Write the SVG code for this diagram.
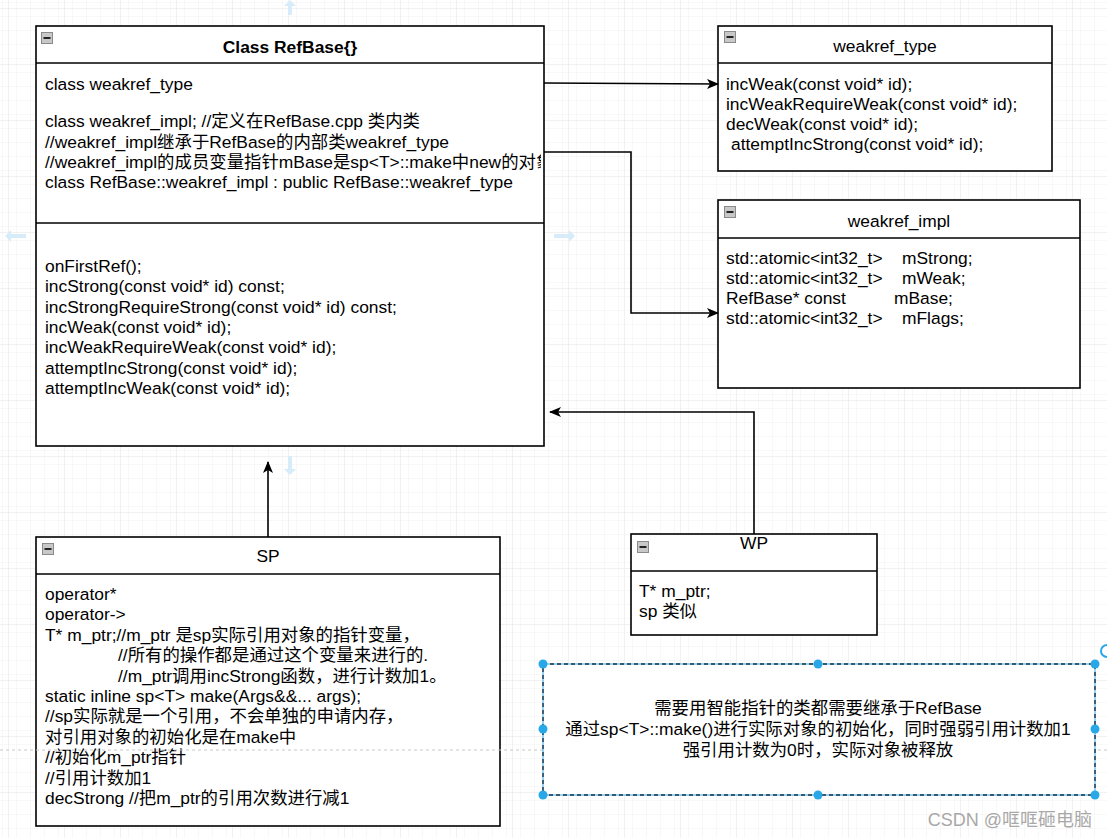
<svg xmlns="http://www.w3.org/2000/svg" width="1107" height="838" viewBox="0 0 1107 838">
<defs>
<pattern id="gridMinor" x="8" y="8" width="14" height="14" patternUnits="userSpaceOnUse">
<path d="M14 0H0V14" fill="none" stroke="#f1f1f1" stroke-width="1"/>
</pattern>
<pattern id="gridMajor" x="8" y="8" width="56" height="56" patternUnits="userSpaceOnUse">
<rect width="56" height="56" fill="url(#gridMinor)"/>
<path d="M56 0H0V56" fill="none" stroke="#e4e4e4" stroke-width="1"/>
</pattern>
<marker id="arr" viewBox="0 0 12 10" refX="11" refY="5" markerWidth="12" markerHeight="10" markerUnits="userSpaceOnUse" orient="auto">
<path d="M0,0 L12,5 L0,10 L3,5 Z" fill="#000"/>
</marker>
<clipPath id="clipRef"><rect x="36" y="26" width="505" height="420"/></clipPath>
<symbol id="collapse" viewBox="0 0 12 12">
<rect x="0.5" y="0.5" width="11" height="11" fill="#c8c8c8" stroke="#8a8a8a"/>
<rect x="2.5" y="5" width="7" height="2" fill="#222"/>
</symbol>
</defs>
<style>
text{font-family:"Liberation Sans",Arial,"Noto Sans CJK SC",sans-serif;font-size:17.4px;fill:#000;}
.t{text-anchor:middle;}
.b{font-weight:bold;}
.box{fill:#fff;stroke:#000;stroke-width:1.6;}
.div{stroke:#000;stroke-width:1.6;}
.conn{fill:none;stroke:#000;stroke-width:1.6;}
.hint{fill:#d6ecf8;}
.handle{fill:#29a8e8;}
</style>
<rect width="1107" height="838" fill="#fff"/>
<rect width="1107" height="838" fill="url(#gridMajor)"/>

<g id="hints">
<path class="hint" d="M290,0 L296,6 L292,6 L292,15 L288,15 L288,6 L284,6 Z"/>
<path class="hint" d="M5,236 L11,230 L11,234 L26,234 L26,238 L11,238 L11,242 Z"/>
<path class="hint" d="M575,236 L569,230 L569,234 L554,234 L554,238 L569,238 L569,242 Z"/>
<path class="hint" d="M290,475 L296,469 L292,469 L292,456 L288,456 L288,469 L284,469 Z"/>
</g>

<g id="refbase">
<rect class="box" x="36" y="26" width="508" height="420"/>
<line class="div" x1="36" y1="63" x2="544" y2="63"/>
<line class="div" x1="36" y1="223" x2="544" y2="223"/>
<use href="#collapse" x="41" y="32" width="12" height="12"/>
<text class="t b" x="290" y="53">Class RefBase{}</text>
<g clip-path="url(#clipRef)">
<text x="45" y="90">class weakref_type</text>
<text x="45" y="127">class weakref_impl; //定义在RefBase.cpp 类内类</text>
<text x="45" y="148">//weakref_impl继承于RefBase的内部类weakref_type</text>
<text x="45" y="168">//weakref_impl的成员变量指针mBase是sp&lt;T&gt;::make中new的对象</text>
<text x="45" y="188">class RefBase::weakref_impl : public RefBase::weakref_type</text>
</g>
<text x="45" y="272">onFirstRef();</text>
<text x="45" y="292">incStrong(const void* id) const;</text>
<text x="45" y="313">incStrongRequireStrong(const void* id) const;</text>
<text x="45" y="333">incWeak(const void* id);</text>
<text x="45" y="353">incWeakRequireWeak(const void* id);</text>
<text x="45" y="374">attemptIncStrong(const void* id);</text>
<text x="45" y="394">attemptIncWeak(const void* id);</text>
</g>

<g id="weakref_type">
<rect class="box" x="718" y="26" width="334" height="145"/>
<line class="div" x1="718" y1="63" x2="1052" y2="63"/>
<use href="#collapse" x="724" y="31" width="12" height="12"/>
<text class="t" x="885" y="52">weakref_type</text>
<text x="726" y="90">incWeak(const void* id);</text>
<text x="726" y="110">incWeakRequireWeak(const void* id);</text>
<text x="726" y="130">decWeak(const void* id);</text>
<text x="731" y="150">attemptIncStrong(const void* id);</text>
</g>

<g id="weakref_impl">
<rect class="box" x="718" y="200" width="362" height="188"/>
<line class="div" x1="718" y1="238" x2="1080" y2="238"/>
<use href="#collapse" x="724" y="206" width="12" height="12"/>
<text class="t" x="899" y="227">weakref_impl</text>
<text x="726" y="264">std::atomic&lt;int32_t&gt;</text><text x="902" y="264">mStrong;</text>
<text x="726" y="284">std::atomic&lt;int32_t&gt;</text><text x="902" y="284">mWeak;</text>
<text x="726" y="304">RefBase* const</text><text x="894" y="304">mBase;</text>
<text x="726" y="324">std::atomic&lt;int32_t&gt;</text><text x="902" y="324">mFlags;</text>
</g>

<g id="sp">
<rect class="box" x="36" y="537" width="464" height="289"/>
<line class="div" x1="36" y1="574" x2="500" y2="574"/>
<use href="#collapse" x="42" y="543" width="12" height="12"/>
<text class="t" x="268" y="562">SP</text>
<text x="45" y="600">operator*</text>
<text x="45" y="620">operator-&gt;</text>
<text x="45" y="641">T* m_ptr;//m_ptr 是sp实际引用对象的指针变量，</text>
<text x="118" y="661">//所有的操作都是通过这个变量来进行的.</text>
<text x="118" y="682">//m_ptr调用incStrong函数，进行计数加1。</text>
<text x="45" y="702">static inline sp&lt;T&gt; make(Args&amp;&amp;... args);</text>
<text x="45" y="722">//sp实际就是一个引用，不会单独的申请内存，</text>
<text x="45" y="743">对引用对象的初始化是在make中</text>
<text x="45" y="763">//初始化m_ptr指针</text>
<text x="45" y="784">//引用计数加1</text>
<text x="45" y="804">decStrong //把m_ptr的引用次数进行减1</text>
</g>

<g id="wp">
<rect class="box" x="631" y="534" width="246" height="101"/>
<line class="div" x1="631" y1="571" x2="877" y2="571"/>
<use href="#collapse" x="637" y="541" width="12" height="12"/>
<text class="t" x="754" y="549">WP</text>
<text x="639" y="597">T* m_ptr;</text>
<text x="639" y="617">sp 类似</text>
</g>

<line x1="0" y1="750" x2="1107" y2="750" stroke="#c8c8c8" stroke-width="1" stroke-dasharray="3,3"/>

<g id="note">
<rect x="543" y="664" width="552" height="131" fill="#fff" stroke="#29a8e8" stroke-width="1"/>
<rect x="543" y="664" width="552" height="131" fill="none" stroke="#1e3040" stroke-width="1.4" stroke-dasharray="4,3"/>
<text class="t" x="818" y="714">需要用智能指针的类都需要继承于RefBase</text>
<text class="t" x="818" y="735">通过sp&lt;T&gt;::make()进行实际对象的初始化，同时强弱引用计数加1</text>
<text class="t" x="818" y="756">强引用计数为0时，实际对象被释放</text>
<circle class="handle" cx="543" cy="664" r="4.5"/>
<circle class="handle" cx="818" cy="664" r="4.5"/>
<circle class="handle" cx="1095" cy="664" r="4.5"/>
<circle class="handle" cx="543" cy="729" r="4.5"/>
<circle class="handle" cx="1095" cy="729" r="4.5"/>
<circle class="handle" cx="543" cy="795" r="4.5"/>
<circle class="handle" cx="818" cy="795" r="4.5"/>
<circle class="handle" cx="1095" cy="795" r="4.5"/>
<path d="M1107,645 A6,6 0 1 0 1107,657" fill="none" stroke="#29a8e8" stroke-width="2"/>
</g>

<g id="connectors">
<path class="conn" d="M544,83 L718,84" marker-end="url(#arr)"/>
<path class="conn" d="M544,152 L631,152 L631,313 L718,313" marker-end="url(#arr)"/>
<path class="conn" d="M754,534 L754,412 L550,412" marker-end="url(#arr)"/>
<path class="conn" d="M268,537 L268,462" marker-end="url(#arr)"/>
</g>

<text x="1092" y="826" style="text-anchor:end;font-size:18px;fill:#a8a8a8">CSDN @哐哐砸电脑</text>
</svg>
